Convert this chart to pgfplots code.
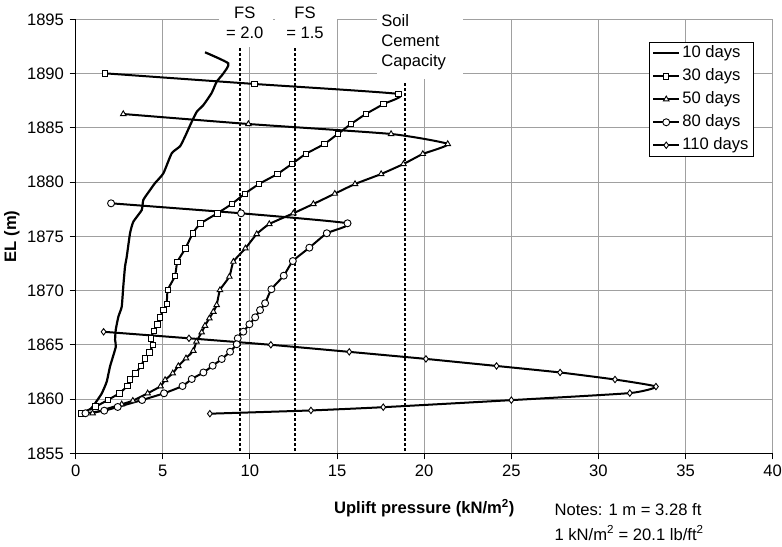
\documentclass[border=0pt]{standalone}
\usepackage{pgfplots}
\pgfplotsset{compat=1.18}
\usepackage{fontspec}
\setmainfont{Liberation Sans}

\definecolor{gridgray}{RGB}{160,160,160}

\begin{document}
\fontsize{16.6bp}{20bp}\selectfont
\begin{tikzpicture}
\begin{axis}[
  scale only axis,
  width=697bp, height=434bp,
  xmin=0, xmax=40, ymin=1855, ymax=1895,
  xtick={0,5,...,40}, ytick={1855,1860,...,1895},
  /pgf/number format/assume math mode=true,
  yticklabel style={/pgf/number format/1000 sep={}},
  grid=major,
  major grid style={color=gridgray, line width=1bp},
  axis x line*=bottom, axis y line*=left,
  axis line style={-, black, line width=1.2bp},
  tick align=outside, major tick length=6bp,
  tick style={black, line width=1bp},
  clip=false,
  xlabel={\bfseries Uplift pressure (kN/m\textsuperscript{2})},
  xlabel style={at={(axis description cs:0.5,-0.1382)}, anchor=base},
  ylabel={\bfseries EL (m)},
  ylabel style={at={(axis description cs:-0.0915,0.5)}, anchor=center},
  legend cell align=left,
  legend image code/.code={%
    \draw[mark repeat=2, mark phase=2, #1]
      plot coordinates {(0bp,0bp) (13bp,0bp) (26bp,0bp)};},
  legend style={at={(0.973,0.948)}, anchor=north east, draw=black,
    line width=0.8bp, fill=white, inner xsep=3bp, inner ysep=1bp,
    row sep=3bp,
    nodes={inner sep=2bp, text height=12bp, text depth=4bp}},
  every axis plot/.append style={black, line width=2bp, smooth, tension=0.3},
]

% 10 days
\addplot[no marks, line width=2.2bp] coordinates {
 (7.42,1891.96) (8.76,1890.94) (8.47,1890.0) (8.09,1889.25) (7.80,1888.2)
 (7.33,1887.1) (6.95,1886.48) (6.66,1885.56) (6.27,1884.18) (5.99,1883.3)
 (5.51,1882.65) (5.03,1880.8) (4.55,1879.9) (4.27,1879.27) (3.88,1878.35)
 (3.79,1877.42) (3.31,1876.35) (3.12,1875.3) (2.93,1873.12) (2.83,1872.2)
 (2.73,1870.35) (2.64,1868.5) (2.45,1867.6) (2.30,1866.4) (2.26,1865.45)
 (2.30,1864.8) (1.97,1863.0) (1.78,1861.6) (1.49,1860.5) (1.11,1859.6)
 (0.82,1859.0)};
\addlegendentry{10 days}

% 30 days
\addplot[mark=square*, mark size=2.7bp, mark options={fill=white, solid, line width=0.9bp}] coordinates {
 (1.68,1890.02) (10.25,1889.04) (18.52,1888.12) (17.66,1887.19) (16.65,1886.27)
 (15.80,1885.35) (15.04,1884.43) (14.27,1883.51) (13.20,1882.59) (12.40,1881.66)
 (11.57,1880.74) (10.52,1879.82) (9.70,1878.92) (8.96,1877.98) (8.13,1877.12)
 (7.16,1876.17) (6.72,1875.28) (6.30,1873.89) (5.83,1872.63) (5.70,1871.34)
 (5.28,1870.05) (5.22,1868.76) (5.03,1868.21) (4.84,1867.53) (4.69,1866.89)
 (4.50,1866.27) (4.31,1865.60) (4.42,1864.98) (4.23,1864.31) (3.98,1863.76)
 (3.74,1863.05) (3.44,1862.37) (3.12,1861.82) (2.96,1861.20) (2.50,1860.53)
 (1.84,1859.91) (1.14,1859.30) (0.30,1858.69)};
\addlegendentry{30 days}

% 50 days
\addplot[mark=triangle*, mark size=3.2bp, mark options={fill=white, solid, line width=0.9bp}] coordinates {
 (2.73,1886.27) (9.91,1885.35) (18.10,1884.43) (21.35,1883.51) (19.92,1882.59)
 (18.81,1881.66) (17.53,1880.74) (16.03,1879.82) (14.87,1878.93) (13.64,1877.98)
 (12.49,1877.12) (11.11,1876.13) (10.39,1875.21) (9.74,1873.89) (9.05,1872.66)
 (8.82,1871.28) (8.28,1870.05) (8.09,1868.67) (7.90,1868.05) (7.67,1867.44)
 (7.42,1866.76) (7.23,1866.15) (6.93,1865.30) (6.75,1864.45) (6.33,1863.76)
 (5.89,1863.04) (5.57,1862.37) (5.13,1861.76) (4.87,1861.18) (4.13,1860.53)
 (3.28,1859.85) (2.64,1859.52) (0.97,1858.69)};
\addlegendentry{50 days}

% 80 days
\addplot[mark=*, mark size=3.5bp, mark options={fill=white, solid, line width=0.9bp}] coordinates {
 (2.03,1878.04) (9.49,1877.12) (15.60,1876.20) (14.41,1875.28) (13.41,1873.95)
 (12.46,1872.72) (11.94,1871.37) (11.23,1870.12) (10.87,1868.83) (10.58,1868.20)
 (10.30,1867.53) (9.97,1866.89) (9.62,1866.21) (9.30,1865.60) (9.24,1865.05)
 (8.86,1864.36) (8.38,1863.69) (7.86,1863.07) (7.33,1862.45) (6.66,1861.85)
 (6.13,1861.20) (5.07,1860.53) (3.81,1859.91) (2.41,1859.27) (1.64,1858.93)
 (0.56,1858.69)};
\addlegendentry{80 days}

% 110 days
\addplot[mark=diamond*, mark size=3.2bp, mark options={fill=white, solid, line width=0.9bp}] coordinates {
 (1.60,1866.20) (6.50,1865.60) (11.20,1865.00) (15.70,1864.35) (20.10,1863.70)
 (24.15,1863.05) (27.80,1862.45) (30.95,1861.80) (33.30,1861.15) (31.80,1860.55)
 (25.00,1859.90) (17.65,1859.25) (13.50,1858.95) (7.70,1858.65)};
\addlegendentry{110 days}

% limit lines
\addplot[forget plot, no marks, sharp plot, line width=2.2bp, dash pattern=on 2.5bp off 2.5bp]
  coordinates {(9.43,1892.35) (9.43,1855)};
\addplot[forget plot, no marks, sharp plot, line width=2.2bp, dash pattern=on 2.5bp off 2.5bp]
  coordinates {(12.59,1892.35) (12.59,1855)};
\addplot[forget plot, no marks, sharp plot, line width=2.2bp, dash pattern=on 2.5bp off 2.5bp]
  coordinates {(18.90,1889.10) (18.90,1855)};

% labels of the limit lines
\fill[white] (axis cs:8.23,1896.78) rectangle (axis cs:11.33,1892.45);
\fill[white] (axis cs:11.44,1896.78) rectangle (axis cs:15.00,1892.45);
\fill[white] (axis cs:17.30,1896.78) rectangle (axis cs:22.23,1889.50);
\node[anchor=north, align=center, inner sep=0pt] at (axis cs:9.70,1896.15) {FS\\= 2.0};
\node[anchor=north, align=center, inner sep=0pt] at (axis cs:13.16,1896.15) {FS\\= 1.5};
\node[anchor=north west, align=left, inner sep=0pt] at (axis cs:17.53,1895.45) {Soil\\Cement\\Capacity};

% unit notes
\node[anchor=base west, inner sep=0pt] at (axis description cs:0.6867,-0.1422) {Notes: 1 m = 3.28 ft};
\node[anchor=base west, inner sep=0pt] at (axis description cs:0.6867,-0.1998) {1 kN/m\textsuperscript{2} = 20.1 lb/ft\textsuperscript{2}};
\end{axis}
\pgfresetboundingbox
\path[use as bounding box] (-75.7bp,-93.7bp) rectangle (706.3bp,453.3bp);
\end{tikzpicture}
\end{document}
